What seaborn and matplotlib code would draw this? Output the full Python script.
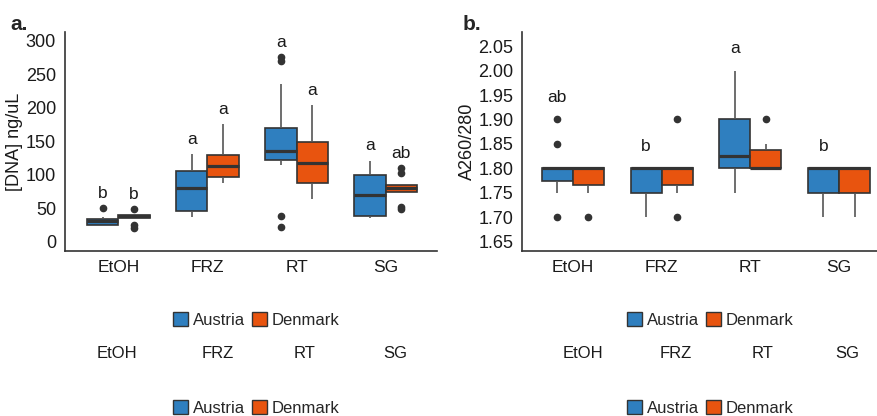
import matplotlib
matplotlib.use("Agg")
import matplotlib.pyplot as plt
import seaborn as sns
import pandas as pd
from matplotlib.patches import Patch

methods = ["EtOH", "FRZ", "RT", "SG"]
countries = ["Austria", "Denmark"]
colors = {"Austria": "#2F7FBF", "Denmark": "#E8540F"}

# DNA concentration (ng/uL) per method and country
dna_austria = {
    "EtOH": [24, 25, 25, 28, 30, 32, 33, 37, 50],
    "FRZ": [37, 40, 46, 60, 80, 95, 105, 118, 130],
    "RT": [22, 38, 115, 118, 122.5, 126, 129, 132, 135, 140, 150, 160, 170, 200, 235, 270, 275],
    "SG": [35, 36, 38, 55, 69, 85, 100, 110, 121],
}
dna_denmark = {
    "EtOH": [20, 25, 33, 35, 36, 37, 37.5, 38, 39, 39.5, 40, 41, 48],
    "FRZ": [87, 92, 97, 105, 113, 120, 129, 150, 175],
    "RT": [63, 75, 88, 100, 118, 130, 148, 175, 204],
    "SG": [48, 52, 72, 74, 76, 78, 80, 81, 82, 84, 85, 102, 110],
}

# A260/280 ratio per method and country
ratio_austria = {
    "EtOH": [1.70, 1.75, 1.75, 1.775, 1.78, 1.80, 1.80, 1.80, 1.80, 1.80, 1.80, 1.85, 1.90],
    "FRZ": [1.70, 1.75, 1.75, 1.78, 1.80, 1.80, 1.80, 1.80, 1.80],
    "RT": [1.75, 1.80, 1.80, 1.80, 1.825, 1.85, 1.90, 1.95, 2.00],
    "SG": [1.70, 1.75, 1.75, 1.78, 1.80, 1.80, 1.80, 1.80, 1.80],
}
ratio_denmark = {
    "EtOH": [1.70, 1.75, 1.765, 1.80, 1.80, 1.80, 1.80, 1.80, 1.80],
    "FRZ": [1.70, 1.75, 1.765, 1.80, 1.80, 1.80, 1.80, 1.80, 1.90],
    "RT": [1.80, 1.80, 1.80, 1.80, 1.80, 1.82, 1.8375, 1.85, 1.90],
    "SG": [1.70, 1.75, 1.75, 1.78, 1.80, 1.80, 1.80, 1.80, 1.80],
}

# significance letters (Austria, Denmark)
dna_letters = {"EtOH": ("b", "b"), "FRZ": ("a", "a"), "RT": ("a", "a"), "SG": ("a", "ab")}
ratio_letters = {"EtOH": ("ab", ""), "FRZ": ("b", ""), "RT": ("a", ""), "SG": ("b", "")}


def to_frame(austria, denmark):
    rows = []
    for country, d in zip(countries, [austria, denmark]):
        for m in methods:
            for v in d[m]:
                rows.append({"method": m, "country": country, "value": v})
    return pd.DataFrame(rows)


def draw_panel(ax, df, letters, offset):
    sns.boxplot(
        data=df, x="method", y="value", hue="country", order=methods,
        hue_order=countries, palette=colors, saturation=1, width=0.7, gap=0,
        linecolor="#333333", linewidth=1.2, showcaps=False, legend=False,
        whiskerprops={"color": "#555555"},
        medianprops={"linewidth": 2.3, "color": "#333333"},
        flierprops={"marker": "o", "markerfacecolor": "#333333",
                    "markeredgecolor": "#333333", "markersize": 4.5},
        ax=ax,
    )
    for i, m in enumerate(methods):
        for j, c in enumerate(countries):
            lab = letters[m][j]
            if not lab:
                continue
            top = df[(df.method == m) & (df.country == c)].value.max()
            ax.text(i + (j - 0.5) * 0.35, top + offset, lab, ha="center",
                    va="center", fontsize=12.5, color="#1a1a1a")
    ax.set_xlabel("")
    sns.despine(ax=ax)
    for s in ["left", "bottom"]:
        ax.spines[s].set_color("#333333")
        ax.spines[s].set_linewidth(1.2)
    ax.tick_params(colors="#333333", labelcolor="#1a1a1a", length=3)
    ax.tick_params(axis="y", labelsize=13)
    ax.tick_params(axis="x", labelsize=12.5)


sns.set_style("white")
plt.rcParams["font.family"] = ["Liberation Sans", "DejaVu Sans"]

fig = plt.figure(figsize=(8.78, 4.16), dpi=100)
ax1 = fig.add_axes([0.074, 0.397, 0.424, 0.526])
ax2 = fig.add_axes([0.595, 0.397, 0.405, 0.526])

draw_panel(ax1, to_frame(dna_austria, dna_denmark), dna_letters, 22)
ax1.set_ylim(-14, 313)
ax1.set_xlim(-0.6, 3.58)
ax1.set_yticks([0, 50, 100, 150, 200, 250, 300])
ax1.set_ylabel("[DNA] ng/uL", fontsize=13, color="#1a1a1a", labelpad=2)

draw_panel(ax2, to_frame(ratio_austria, ratio_denmark), ratio_letters, 0.045)
ax2.set_ylim(1.631, 2.079)
ax2.set_xlim(-0.57, 3.44)
ax2.set_yticks([1.65, 1.70, 1.75, 1.80, 1.85, 1.90, 1.95, 2.00, 2.05])
ax2.set_yticklabels([f"{t:.2f}" for t in ax2.get_yticks()])
ax2.set_ylabel("A260/280", fontsize=13, color="#1a1a1a", labelpad=2)

fig.text(0.012, 0.94, "a.", fontsize=15, fontweight="bold", va="center")
fig.text(0.527, 0.94, "b.", fontsize=15, fontweight="bold", va="center")

handles = [Patch(facecolor=colors[c], edgecolor="#333333", label=c) for c in countries]
for cx in [0.292, 0.809]:
    for cy in [0.231, 0.019]:
        fig.legend(handles=handles, loc="center", bbox_to_anchor=(cx, cy), ncol=2,
                   frameon=False, fontsize=12, handlelength=0.9, handleheight=0.9,
                   handletextpad=0.3, columnspacing=0.4)

# repeated category row under the legends
row_a = [0.133, 0.248, 0.347, 0.450]
row_b = [0.664, 0.770, 0.868, 0.965]
for xs in [row_a, row_b]:
    for x, m in zip(xs, methods):
        fig.text(x, 0.151, m, ha="center", va="center", fontsize=12, color="#1a1a1a")

fig.savefig("out.png", dpi=100)
